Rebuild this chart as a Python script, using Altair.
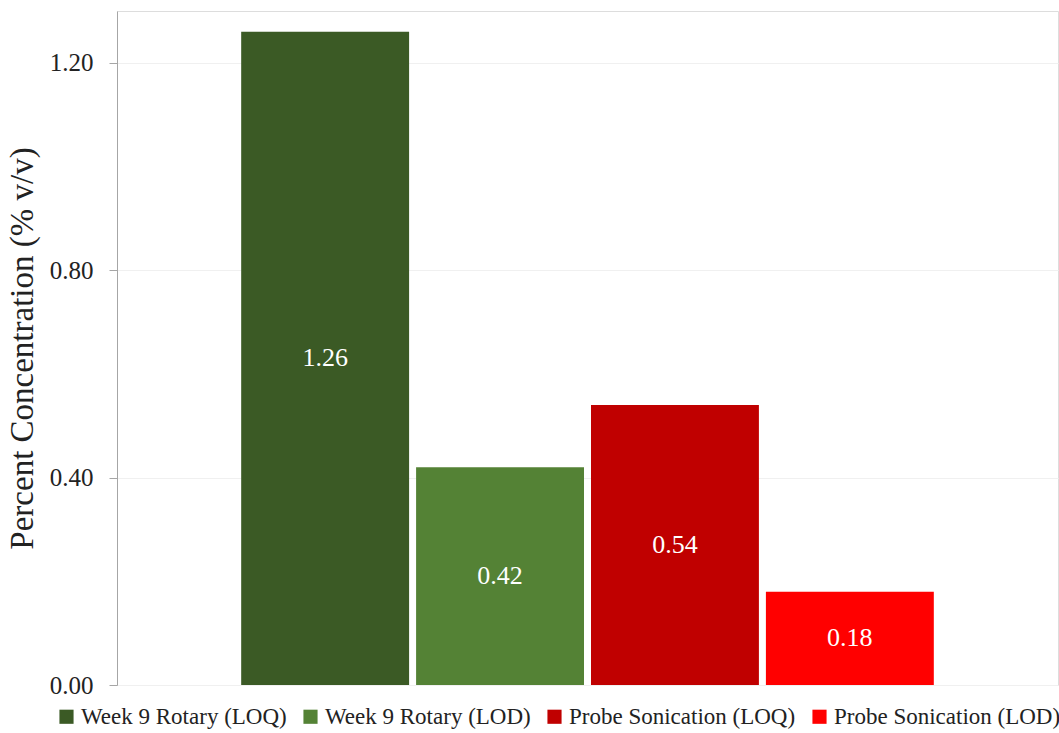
import altair as alt
import pandas as pd

series = ["Week 9 Rotary (LOQ)", "Week 9 Rotary (LOD)", "Probe Sonication (LOQ)", "Probe Sonication (LOD)"]
values = [1.26, 0.42, 0.54, 0.18]
labels = ["1.26", "0.42", "0.54", "0.18"]
colors = ["#3b5a25", "#548235", "#c00000", "#ff0000"]

df = pd.DataFrame({"series": series, "value": values, "label": labels})

FONT = "Liberation Serif"

x = alt.X("series:N", sort=series,
          scale=alt.Scale(paddingInner=0.04, paddingOuter=0.71),
          axis=None)

bars = alt.Chart(df).mark_bar().encode(
    x=x,
    y=alt.Y("value:Q",
            scale=alt.Scale(domain=[0, 1.3], nice=False),
            axis=alt.Axis(values=[0, 0.4, 0.8, 1.2], format=".2f",
                          title="Percent Concentration (% v/v)",
                          titleFont=FONT, titleFontSize=33, titleFontWeight="normal",
                          titleColor="#222222", titlePadding=10,
                          labelFont=FONT, labelFontSize=25, labelColor="#222222",
                          labelPadding=16,
                          domainColor="#a6a6a6", tickColor="#a6a6a6", tickSize=8,
                          gridColor="#f0f0f0", gridWidth=1)),
    color=alt.Color("series:N", sort=series,
                    scale=alt.Scale(domain=series, range=colors),
                    legend=alt.Legend(orient="none", legendX=-62, legendY=694,
                                      direction="horizontal",
                                      title=None, symbolType="square",
                                      symbolSize=200, symbolStrokeWidth=0,
                                      labelFont=FONT, labelFontSize=23,
                                      labelColor="#222222", columnPadding=12,
                                      labelOffset=3,
                                      labelLimit=400, padding=0))
)

text = alt.Chart(df).mark_text(font=FONT, fontSize=26, color="white").encode(
    x=x,
    y=alt.Y("mid:Q"),
    text="label:N"
).transform_calculate(mid="datum.value / 2")

chart = alt.layer(bars, text).properties(
    width=941, height=674,
    autosize=alt.AutoSizeParams(type="none"),
    padding={"left": 117, "top": 11, "right": 1, "bottom": 48}
).configure_view(stroke="#c8c8c8", strokeWidth=1.5).configure(background="white")

chart.save("out.html", embed_options={"renderer": "svg", "actions": False})
